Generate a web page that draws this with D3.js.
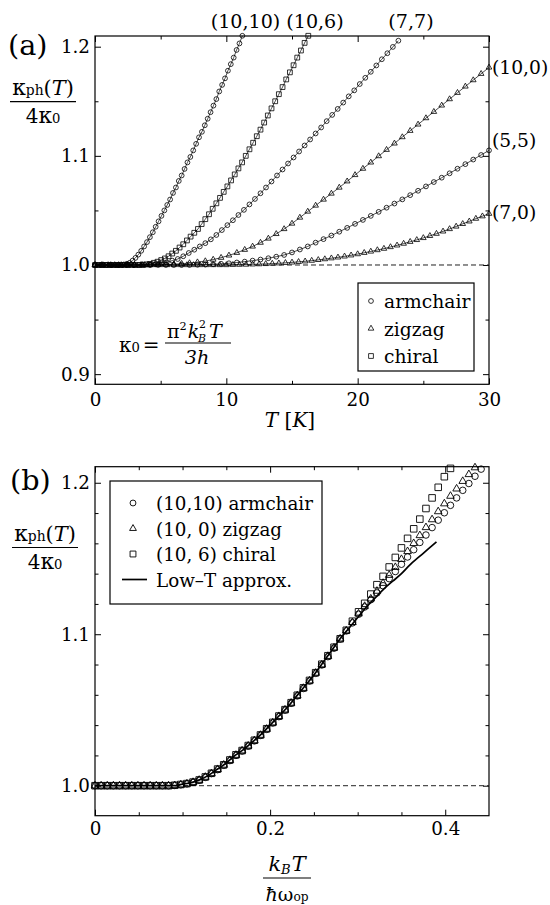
<!DOCTYPE html>
<html>
<head>
<meta charset="utf-8">
<script src="https://cdn.jsdelivr.net/npm/d3@7"></script>
<style>
  body { margin: 0; background: #fff; }
</style>
</head>
<body>
<svg id="chart" width="550" height="905"></svg>
<script>
// ---- panel (a): kappa_ph / 4kappa_0 vs T [K], one array per tube, sampled every step K from T = 0
const step1010 = 0.22;
const kappa1010 = [1,1,1,1,1,1,1,1,1,1, 1.0005,1.001,1.002,1.004,1.0065,1.0095,1.013,1.017,1.021,1.0255,
  1.030,1.035,1.040,1.045,1.050,1.055,1.060,1.066,1.071,1.077, 1.082,1.088,1.094,1.099,1.105,1.111,1.117,1.122,1.128,1.134,
  1.140,1.146,1.152,1.159,1.165,1.171,1.178,1.184,1.190,1.197, 1.203,1.210];

const step106 = 0.28;
const kappa106 = [1,1,1,1,1,1,1,1,1,1,1,1,1, 1.0003,1.0006,1.001,1.002,1.003,1.0045,1.006,
  1.008,1.0105,1.013,1.016,1.019,1.0225,1.026,1.0295,1.033,1.0375, 1.042,1.0465,1.0515,1.0565,1.0615,1.067,1.072,1.0775,1.083,1.0885,
  1.094,1.100,1.106,1.112,1.118,1.124,1.1305,1.137,1.1435,1.150, 1.1565,1.163,1.170,1.1765,1.183,1.190,1.1965,1.2035,1.210];

const step77 = 0.42;
const kappa77 = [1,1,1,1,1,1,1,1,1,1, 1.0003,1.0007,1.0015,1.0025,1.004,1.0055,1.008,1.011,1.014,1.017,
  1.020,1.0235,1.0275,1.032,1.0365,1.041,1.0458,1.0505,1.0555,1.0605, 1.0657,1.071,1.0765,1.082,1.0875,1.093,1.0985,1.104,1.1095,1.115,
  1.1205,1.126,1.1318,1.1375,1.143,1.1488,1.1545,1.160,1.1658,1.1715, 1.177,1.1828,1.1885,1.194,1.1998,1.2055];

const step100 = 0.6;
const kappa100 = [1,1,1,1,1,1,1,1, 1.0002,1.0004,1.0007,1.0012,1.0018,1.0026,1.0036,
  1.005,1.0067,1.0088,1.0112,1.014,1.017,1.0205,1.0243,1.0285,1.033, 1.038,1.0435,1.049,1.0545,1.060,1.0655,1.071,1.0767,1.0825,1.0883,
  1.094,1.0998,1.1056,1.1114,1.1172,1.123,1.1288,1.1346,1.1404,1.1462, 1.152,1.1578,1.1636,1.1694,1.1752,1.181];

const step55 = 0.6;
const kappa55 = [1,1,1,1,1,1,1,1,1,1,1,1,1, 1.0002,1.0004,1.0007,1.0011,1.0016,1.0023,1.0031,
  1.004,1.005,1.0062,1.0076,1.0092,1.0115,1.0142,1.017,1.0205,1.0237, 1.027,1.0305,1.034,1.0377,1.0413,1.045,1.0487,1.0525,1.0563,1.0601,
  1.064,1.068,1.072,1.076,1.080,1.084,1.0882,1.0924,1.0966,1.1008,1.105];

const step70 = 0.5;
const kappa70 = [1,1,1,1,1,1,1,1,1,1,1,1,1,1,1,1,1,1,1,1,1,
  1.0002,1.0003,1.0004,1.0006,1.0008,1.001,1.0013,1.0016,1.002,1.0024, 1.0029,1.0034,1.004,1.0047,1.0054,1.0062,1.007,1.0079,1.0089,1.01,
  1.0112,1.0124,1.0137,1.015,1.0165,1.018,1.0196,1.0213,1.023,1.0248, 1.0267,1.0287,1.0308,1.033,1.0353,1.0377,1.040,1.0425,1.0447,1.047];

// ---- panel (b): vs kT / hbar w_op, sampled every stepB
const stepB = 0.007;
const scaled106 = [1,1,1,1,1,1,1,1,1,1,1,1,1, 1.0003,1.0008,1.0014,1.0024,1.0038,1.0058,1.0082,
  1.011,1.0138,1.017,1.0204,1.0232,1.0265,1.030,1.0335,1.0376,1.0418, 1.046,1.0502,1.0548,1.0597,1.0646,1.0695,1.0746,1.0802,1.0858,1.0914,
  1.097,1.1026,1.1086,1.1148,1.1204,1.1265,1.1327,1.1382,1.1444,1.1507, 1.157,1.1633,1.1696,1.176,1.183,1.190,1.197,1.204,1.2095];
const scaled100 = [1,1,1,1,1,1,1,1,1,1,1,1,1, 1.0002,1.0007,1.0013,1.0023,1.0037,1.0057,1.0081,
  1.0108,1.0137,1.0168,1.0202,1.0231,1.0263,1.0298,1.0334,1.0374,1.0416, 1.0458,1.0501,1.0546,1.0595,1.0644,1.0693,1.0744,1.0799,1.0855,1.0911,
  1.097,1.1023,1.1078,1.1135,1.1185,1.1234,1.1285,1.1337,1.139,1.1442, 1.1495,1.1547,1.160,1.1652,1.1705,1.1757,1.181,1.1862,1.1912,1.196,
  1.201,1.2055,1.210];
const scaled1010 = [1,1,1,1,1,1,1,1,1,1,1,1,1, 1.0002,1.0006,1.0012,1.0022,1.0036,1.0055,1.008,
  1.0106,1.0135,1.0166,1.02,1.0229,1.0261,1.0296,1.0332,1.0372,1.0414, 1.0456,1.0499,1.0544,1.0593,1.0642,1.0691,1.0742,1.0797,1.0852,1.0908,
  1.0968,1.1022,1.1075,1.1132,1.118,1.1228,1.1273,1.132,1.1367,1.1414, 1.1462,1.151,1.1558,1.1606,1.1655,1.1704,1.1753,1.1802,1.1851,1.19,
  1.195,1.1995,1.2043,1.209];
const lowTx = [0,0.09,0.10,0.11,0.12,0.13,0.14,0.15,0.16,0.17,0.18,0.19,0.20,0.21,0.22,0.23,0.24,0.25,
  0.26,0.27,0.28,0.29,0.30,0.31,0.32,0.33,0.34,0.35,0.36,0.37,0.38,0.39];
const lowTv = [1,1,1.001,1.002,1.004,1.007,1.011,1.015,1.020,1.024,1.029,1.034,1.040,1.046,1.052,1.059,1.066,1.073,
  1.081,1.089,1.097,1.104,1.111,1.118,1.124,1.130,1.135,1.140,1.146,1.151,1.156,1.161];

// ticks
const xTicksA = [0, 10, 20, 30], xMinorA = [5, 15, 25];
const yTicksA = [0.9, 1.0, 1.1, 1.2], yMinorA = [0.95, 1.05, 1.15];
const xTicksB = [0, 0.2, 0.4], xMinorB = [0.05, 0.1, 0.15, 0.25, 0.3, 0.35];
const yTicksB = [1.0, 1.1, 1.2], yMinorB = [1.02, 1.04, 1.06, 1.08, 1.12, 1.14, 1.16, 1.18];

// DejaVu Serif is the serif face that actually resolves here; it runs wider than Times, so sizes are scaled down
const FONT = "DejaVu Serif";
const fs = n => Math.round(n * 0.87 * 10) / 10;

const svg = d3.select("#chart").style("font-family", FONT);

const pA = { left: 95, right: 489, top: 36, bottom: 384.3 };
const pB = { left: 95, right: 489, top: 466.7, bottom: 815.7 };

const xA = d3.scaleLinear().domain([0, 30]).range([pA.left, pA.right]);
const yA = d3.scaleLinear().domain([0.8907, 1.2098]).range([pA.bottom, pA.top]);
const xB = d3.scaleLinear().domain([0, 0.45]).range([pB.left, pB.right]);
const yB = d3.scaleLinear().domain([0.9802, 1.2106]).range([pB.bottom, pB.top]);

function frame(p, x, y, xMaj, xMin, yMaj, yMin, xFmt, xPad) {
  const g = svg.append("g");
  const mk = (axis, tr) => {
    const a = g.append("g").attr("transform", tr).call(axis);
    a.select(".domain").remove();
    a.attr("font-family", null).attr("font-size", fs(21));
    a.selectAll(".tick line").attr("stroke", "#000").attr("stroke-width", 1);
    a.selectAll(".tick text").attr("fill", "#000");
  };
  mk(d3.axisBottom(x).tickValues(xMaj).tickSize(-6).tickPadding(xPad).tickFormat(xFmt), `translate(0,${p.bottom})`);
  mk(d3.axisBottom(x).tickValues(xMin).tickSize(-3.5).tickFormat(""), `translate(0,${p.bottom})`);
  mk(d3.axisTop(x).tickValues(xMaj).tickSize(-6).tickFormat(""), `translate(0,${p.top})`);
  mk(d3.axisTop(x).tickValues(xMin).tickSize(-3.5).tickFormat(""), `translate(0,${p.top})`);
  mk(d3.axisLeft(y).tickValues(yMaj).tickSize(-6).tickPadding(5).tickFormat(d3.format(".1f")), `translate(${p.left},0)`);
  mk(d3.axisLeft(y).tickValues(yMin).tickSize(-3.5).tickFormat(""), `translate(${p.left},0)`);
  mk(d3.axisRight(y).tickValues(yMaj).tickSize(-6).tickFormat(""), `translate(${p.right},0)`);
  mk(d3.axisRight(y).tickValues(yMin).tickSize(-3.5).tickFormat(""), `translate(${p.right},0)`);
  g.append("rect")
    .attr("x", p.left).attr("y", p.top)
    .attr("width", p.right - p.left).attr("height", p.bottom - p.top)
    .attr("fill", "none").attr("stroke", "#000").attr("stroke-width", 1.2);
  // dashed reference at 1.0
  g.append("line")
    .attr("x1", p.left).attr("x2", p.right)
    .attr("y1", y(1)).attr("y2", y(1))
    .attr("stroke", "#222").attr("stroke-width", 1).attr("stroke-dasharray", "5,3");
}

frame(pA, xA, yA, xTicksA, xMinorA, yTicksA, yMinorA, d3.format("d"), 9);
frame(pB, xB, yB, xTicksB, xMinorB, yTicksB, yMinorB, v => v === 0 ? "0" : d3.format(".1f")(v), 6.4);

const shapes = { circle: d3.symbolCircle, square: d3.symbolSquare, triangle: d3.symbolTriangle };

function series(x, y, pts, shape, area, sw, line) {
  const g = svg.append("g");
  if (line) {
    g.append("path")
      .attr("d", d3.line().x(d => x(d[0])).y(d => y(d[1]))(pts))
      .attr("fill", "none").attr("stroke", "#000").attr("stroke-width", 0.7);
  }
  g.selectAll("path.m").data(pts).enter().append("path")
    .attr("class", "m")
    .attr("transform", d => `translate(${x(d[0])},${y(d[1])})`)
    .attr("d", d3.symbol().type(shapes[shape]).size(area)())
    .attr("fill", "none").attr("stroke", "#000").attr("stroke-width", sw);
}

const onGrid = (vals, st) => vals.map((v, i) => [i * st, v]);

// panel (a)
const topSizes = { circle: 18, square: 23, triangle: 14 };
series(xA, yA, onGrid(kappa70, step70), "triangle", topSizes.triangle, 0.8, true);
series(xA, yA, onGrid(kappa55, step55), "circle", topSizes.circle, 0.8, true);
series(xA, yA, onGrid(kappa100, step100), "triangle", topSizes.triangle, 0.8, true);
series(xA, yA, onGrid(kappa77, step77), "circle", topSizes.circle, 0.8, true);
series(xA, yA, onGrid(kappa106, step106), "square", topSizes.square, 0.8, true);
series(xA, yA, onGrid(kappa1010, step1010), "circle", topSizes.circle, 0.8, true);

// panel (b)
const botSizes = { circle: 34, square: 43, triangle: 25 };
series(xB, yB, onGrid(scaled1010, stepB), "circle", botSizes.circle, 0.9, false);
series(xB, yB, onGrid(scaled100, stepB), "triangle", botSizes.triangle, 0.9, false);
series(xB, yB, onGrid(scaled106, stepB), "square", botSizes.square, 0.9, false);
svg.append("path")
  .attr("d", d3.line().curve(d3.curveMonotoneX).x((d, i) => xB(lowTx[i])).y(d => yB(d))(lowTv))
  .attr("fill", "none").attr("stroke", "#000").attr("stroke-width", 1.7);

// ---- text
const T = svg.append("g").attr("fill", "#000");

T.append("text").attr("x", 8).attr("y", 55).attr("font-size", fs(33)).text("(a)");
T.append("text").attr("x", 10).attr("y", 490).attr("font-size", fs(33)).text("(b)");

// curve labels in (a)
const topLabels = [["(10,10)", 245.5], ["(10,6)", 315], ["(7,7)", 411]];
topLabels.forEach(([s, cx]) => T.append("text").attr("x", cx).attr("y", 28)
  .attr("text-anchor", "middle").attr("font-size", fs(22)).text(s));
const rightLabels = [["(10,0)", 73.5], ["(5,5)", 147], ["(7,0)", 219]];
rightLabels.forEach(([s, by]) => T.append("text").attr("x", 492).attr("y", by)
  .attr("font-size", fs(21.5)).text(s));

// y label fractions
function yFrac(cx, barY) {
  const n = T.append("text").attr("x", cx).attr("y", barY - 7).attr("text-anchor", "middle");
  n.append("tspan").attr("font-size", fs(25)).text("κ");
  n.append("tspan").attr("font-size", fs(16)).text("ph");
  n.append("tspan").attr("font-size", fs(24)).text("(");
  n.append("tspan").attr("font-size", fs(24)).attr("font-style", "italic").text("T");
  n.append("tspan").attr("font-size", fs(24)).text(")");
  T.append("line").attr("x1", cx - 33).attr("x2", cx + 33).attr("y1", barY).attr("y2", barY)
    .attr("stroke", "#000").attr("stroke-width", 1.2);
  const d = T.append("text").attr("x", cx).attr("y", barY + 21).attr("text-anchor", "middle");
  d.append("tspan").attr("font-size", fs(23)).text("4");
  d.append("tspan").attr("font-size", fs(25)).text("κ");
  d.append("tspan").attr("font-size", fs(15)).text("0");
}
yFrac(43, 101.7);
yFrac(45, 547.5);

// x label (a)
const xl = T.append("text").attr("x", 290).attr("y", 427).attr("text-anchor", "middle").attr("font-size", fs(23));
xl.append("tspan").attr("font-style", "italic").text("T");
xl.append("tspan").text(" [");
xl.append("tspan").attr("font-style", "italic").text("K");
xl.append("tspan").text("]");

// kappa0 formula
const f0 = T.append("text").attr("x", 119).attr("y", 352).attr("font-size", fs(23));
f0.append("tspan").text("κ");
f0.append("tspan").attr("font-size", fs(15)).text("0");
f0.append("tspan").attr("dx", 3).text("=");
const fn = T.append("text").attr("x", 167).attr("y", 338).attr("font-size", fs(22));
fn.append("tspan").text("π");
fn.append("tspan").attr("font-size", fs(13)).attr("dy", -8).text("2");
fn.append("tspan").attr("font-style", "italic").attr("dy", 8).attr("dx", 1).text("k");
const kb = T.append("text").attr("font-size", fs(12.5));
kb.append("tspan").attr("x", 199).attr("y", 328).text("2");
kb.append("tspan").attr("x", 198).attr("y", 342).attr("font-style", "italic").text("B");
T.append("text").attr("x", 209).attr("y", 338).attr("font-size", fs(22)).attr("font-style", "italic").text("T");
T.append("line").attr("x1", 165).attr("x2", 231).attr("y1", 343).attr("y2", 343)
  .attr("stroke", "#000").attr("stroke-width", 1.2);
T.append("text").attr("x", 197).attr("y", 364).attr("text-anchor", "middle").attr("font-size", fs(22))
  .attr("font-style", "italic").text("3h");

// x label (b)
const bn = T.append("text").attr("x", 287).attr("y", 871).attr("text-anchor", "middle").attr("font-size", fs(24)).attr("font-style", "italic");
bn.append("tspan").text("k");
bn.append("tspan").attr("font-size", fs(15)).attr("dy", 3).text("B");
bn.append("tspan").attr("dy", -3).attr("dx", 1).text("T");
T.append("line").attr("x1", 263).attr("x2", 311).attr("y1", 878).attr("y2", 878)
  .attr("stroke", "#000").attr("stroke-width", 1.2);
const bd = T.append("text").attr("x", 287).attr("y", 901).attr("text-anchor", "middle").attr("font-size", fs(22));
bd.append("tspan").attr("font-style", "italic").text("ħ");
bd.append("tspan").text("ω");
bd.append("tspan").attr("font-size", fs(14)).text("op");

// legend (a)
const legA = [["circle", "armchair"], ["triangle", "zigzag"], ["square", "chiral"]];
T.append("rect").attr("x", 358).attr("y", 283).attr("width", 116).attr("height", 88)
  .attr("fill", "#fff").attr("stroke", "#000").attr("stroke-width", 1.2);
legA.forEach(([sh, label], i) => {
  const cy = 301 + i * 27.5;
  T.append("path").attr("transform", `translate(371,${cy})`)
    .attr("d", d3.symbol().type(shapes[sh]).size(topSizes[sh])())
    .attr("fill", "none").attr("stroke", "#000").attr("stroke-width", 0.8);
  T.append("text").attr("x", 384).attr("y", cy + 7).attr("font-size", fs(21.5)).text(label);
});

// legend (b)
const legB = [["circle", "(10,10) armchair"], ["triangle", "(10, 0) zigzag"], ["square", "(10, 6) chiral"], ["line", "Low–T approx."]];
T.append("rect").attr("x", 110).attr("y", 481).attr("width", 212).attr("height", 123)
  .attr("fill", "#fff").attr("stroke", "#000").attr("stroke-width", 1.2);
legB.forEach(([sh, label], i) => {
  const cy = 503 + i * 25.5;
  if (sh === "line") {
    T.append("line").attr("x1", 122).attr("x2", 147).attr("y1", cy).attr("y2", cy)
      .attr("stroke", "#000").attr("stroke-width", 1.7);
  } else {
    T.append("path").attr("transform", `translate(133,${cy})`)
      .attr("d", d3.symbol().type(shapes[sh]).size(botSizes[sh] * 0.8)())
      .attr("fill", "none").attr("stroke", "#000").attr("stroke-width", 0.9);
  }
  T.append("text").attr("x", 156).attr("y", cy + 7).attr("font-size", fs(21)).text(label);
});
</script>
</body>
</html>
